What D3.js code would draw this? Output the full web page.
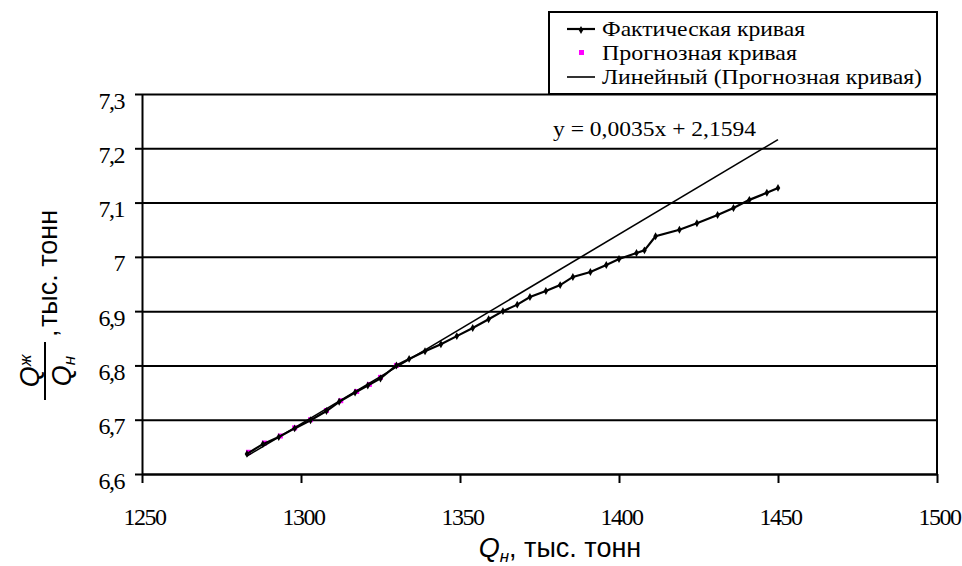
<!DOCTYPE html>
<html lang="ru">
<head>
  <meta charset="UTF-8">
  <title>Фактическая и прогнозная кривая</title>
  <script src="https://d3js.org/d3.v7.min.js"></script>
  <style>
    body { margin: 0; background: #fff; }
    .axis path, .axis line { stroke: #000; stroke-width: 2px; }
    .grid line { stroke: #000; stroke-width: 2px; }
    .grid path { display: none; }
    .lbl { font-family: Arial, "Liberation Sans", sans-serif; font-size: 27px; fill: #000; }
  </style>
</head>
<body>
  <svg width="962" height="566"></svg>

  <script>
    // Data
    const xTicks = [1250, 1300, 1350, 1400, 1450, 1500];
    const yTicks = [6.6, 6.7, 6.8, 6.9, 7.0, 7.1, 7.2, 7.3];

    // Фактическая кривая
    const factX = [1283, 1288, 1293, 1298, 1303, 1308, 1312, 1317, 1321, 1325, 1330, 1334, 1339, 1344,
                   1349, 1354, 1359, 1363.5, 1368, 1372, 1377, 1381.5, 1385.5, 1391, 1396, 1400, 1405.5,
                   1408, 1411.5, 1419, 1424.5, 1431, 1436, 1441, 1446.5, 1450];
    const factY = [6.637, 6.655, 6.668, 6.684, 6.699, 6.716, 6.733, 6.75, 6.763, 6.776, 6.8, 6.812, 6.826, 6.839,
                   6.854, 6.869, 6.885, 6.9, 6.912, 6.926, 6.937, 6.948, 6.963, 6.972, 6.985, 6.996, 7.007,
                   7.012, 7.038, 7.05, 7.062, 7.077, 7.09, 7.105, 7.118, 7.127];

    // Прогнозная кривая
    const progX = [1283.5, 1288.5, 1293.5, 1298, 1303, 1308, 1312.5, 1317.5, 1321.5, 1325, 1330];
    const progY = [6.64, 6.657, 6.67, 6.685, 6.7, 6.717, 6.735, 6.752, 6.765, 6.778, 6.8];

    // Линейный (Прогнозная кривая) - end points of the trend line
    const trendX = [1283, 1450];
    const trendY = [6.633, 7.216];

    const legendNames = ["Фактическая кривая", "Прогнозная кривая", "Линейный (Прогнозная кривая)"];
    const equation = "y = 0,0035x + 2,1594";

    const serif = "'Liberation Serif', 'Times New Roman', serif";

    const svg = d3.select("svg");
    const margin = { left: 142, right: 25, top: 94, bottom: 92 };
    const width = 962 - margin.left - margin.right,
          height = 566 - margin.top - margin.bottom;

    const x = d3.scaleLinear().domain([1250, 1500]).range([margin.left, margin.left + width]);
    const y = d3.scaleLinear().domain([6.6, 7.3]).range([margin.top + height, margin.top]);

    const fmt = d => String(+d.toFixed(1)).replace(".", ",");

    // horizontal gridlines
    svg.append("g")
      .attr("class", "grid")
      .attr("transform", "translate(" + margin.left + ",0)")
      .call(d3.axisLeft(y).tickValues(yTicks).tickSize(-width).tickFormat(""));

    // right border of the plot area
    svg.append("line")
      .attr("x1", x(1500)).attr("x2", x(1500))
      .attr("y1", y(7.3)).attr("y2", y(6.6))
      .attr("stroke", "#000").attr("stroke-width", 2);

    // axes
    const xAxis = svg.append("g")
      .attr("class", "axis")
      .attr("transform", "translate(0," + (margin.top + height) + ")")
      .call(d3.axisBottom(x).tickValues(xTicks).tickSize(9).tickSizeOuter(0).tickFormat(d3.format("d")));
    xAxis.attr("font-family", null).attr("font-size", null);
    xAxis.selectAll(".tick text")
      .style("font-family", serif)
      .style("font-size", "24px")
      .style("letter-spacing", "-1.5px")
      .attr("y", 51).attr("dy", null).attr("dx", 2)
      .attr("fill", "#000");

    const yAxis = svg.append("g")
      .attr("class", "axis")
      .attr("transform", "translate(" + margin.left + ",0)")
      .call(d3.axisLeft(y).tickValues(yTicks).tickSize(7).tickSizeOuter(0).tickFormat(fmt));
    yAxis.attr("font-family", null).attr("font-size", null);
    yAxis.selectAll(".tick text")
      .style("font-family", serif)
      .style("font-size", "24px")
      .style("letter-spacing", "-1.5px")
      .attr("x", -18).attr("dy", null).attr("y", 14)
      .attr("fill", "#000");

    // forecast points
    const prog = progX.map((v, i) => [v, progY[i]]);
    svg.append("g").selectAll("rect")
      .data(prog)
      .join("rect")
      .attr("x", d => x(d[0]) - 2.5)
      .attr("y", d => y(d[1]) - 2.5)
      .attr("width", 5).attr("height", 5)
      .attr("fill", "#ff00ff");

    // trend line
    const trend = trendX.map((v, i) => [v, trendY[i]]);
    const line = d3.line().x(d => x(d[0])).y(d => y(d[1]));
    svg.append("path")
      .datum(trend)
      .attr("d", line)
      .attr("fill", "none")
      .attr("stroke", "#000")
      .attr("stroke-width", 1.6);

    // actual curve
    const fact = factX.map((v, i) => [v, factY[i]]);
    svg.append("path")
      .datum(fact)
      .attr("d", line)
      .attr("fill", "none")
      .attr("stroke", "#000")
      .attr("stroke-width", 2.2);
    svg.append("g").selectAll("path")
      .data(fact)
      .join("path")
      .attr("transform", d => "translate(" + x(d[0]) + "," + y(d[1]) + ")")
      .attr("d", d3.symbol(d3.symbolDiamond, 18))
      .attr("fill", "#000");

    // equation
    svg.append("text")
      .style("font-family", serif)
      .style("font-size", "22px")
      .attr("x", 553).attr("y", 136)
      .attr("textLength", 203)
      .attr("lengthAdjust", "spacingAndGlyphs")
      .text(equation);

    // legend
    const lg = svg.append("g");
    lg.append("rect")
      .attr("x", 549).attr("y", 12).attr("width", 388).attr("height", 82)
      .attr("fill", "#fff").attr("stroke", "#000").attr("stroke-width", 2);
    const rowY = [29, 53, 77];
    const textLen = [203, 195, 320];
    lg.append("line").attr("x1", 567).attr("x2", 595).attr("y1", rowY[0]).attr("y2", rowY[0])
      .attr("stroke", "#000").attr("stroke-width", 2.2);
    lg.append("path").attr("transform", "translate(581," + (rowY[0] + 1) + ")")
      .attr("d", d3.symbol(d3.symbolDiamond, 18)).attr("fill", "#000");
    lg.append("rect").attr("x", 579).attr("y", rowY[1] - 3).attr("width", 5).attr("height", 5)
      .attr("fill", "#ff00ff");
    lg.append("line").attr("x1", 567).attr("x2", 595).attr("y1", rowY[2]).attr("y2", rowY[2])
      .attr("stroke", "#000").attr("stroke-width", 1.6);
    lg.selectAll("text.item")
      .data(legendNames)
      .join("text")
      .attr("class", "item")
      .style("font-family", serif)
      .style("font-size", "21px")
      .attr("x", 602)
      .attr("y", (d, i) => rowY[i] + 7)
      .attr("textLength", (d, i) => textLen[i])
      .attr("lengthAdjust", "spacingAndGlyphs")
      .text(d => d);

    // x axis label
    const xl = svg.append("text")
      .attr("class", "lbl")
      .attr("x", 560).attr("y", 557)
      .attr("text-anchor", "middle");
    xl.append("tspan").style("font-style", "italic").text("Q");
    xl.append("tspan").style("font-style", "italic").style("font-size", "17px").attr("dy", 5).text("н");
    xl.append("tspan").attr("dy", -5).text(", тыс. тонн");

    // y axis label: fraction Qж / Qн, тыс. тонн
    const yl = svg.append("g").attr("transform", "translate(45,300) rotate(-90)");
    yl.append("line").attr("x1", -100).attr("x2", -42).attr("y1", 0).attr("y2", 0)
      .attr("stroke", "#000").attr("stroke-width", 2);
    const num = yl.append("text").attr("class", "lbl").attr("x", -71).attr("y", -6).attr("text-anchor", "middle");
    num.append("tspan").style("font-style", "italic").text("Q");
    num.append("tspan").style("font-style", "italic").style("font-size", "17px").attr("dy", -8).text("ж");
    const den = yl.append("text").attr("class", "lbl").attr("x", -71).attr("y", 26).attr("text-anchor", "middle");
    den.append("tspan").style("font-style", "italic").text("Q");
    den.append("tspan").style("font-style", "italic").style("font-size", "17px").attr("dy", 4).text("н");
    yl.append("text").attr("class", "lbl").attr("x", -37).attr("y", 12).text(",");
    yl.append("text").attr("class", "lbl").attr("x", -27).attr("y", 12).text("тыс. тонн");
  </script>
</body>
</html>
